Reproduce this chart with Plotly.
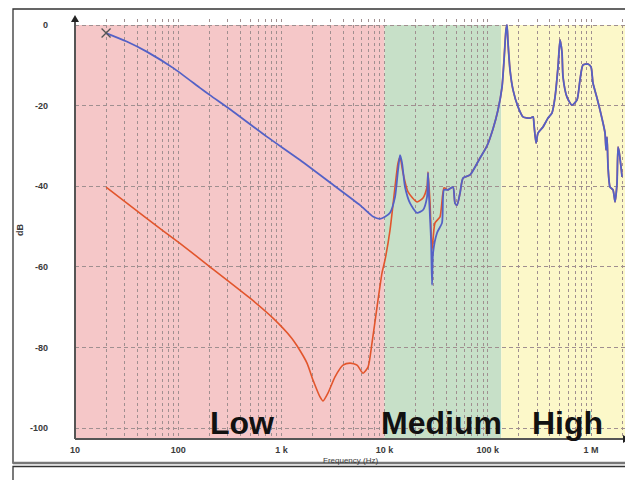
import plotly.graph_objects as go

# ---- data ----
blue_low_f = [20, 31.7, 49.5, 89.8, 162.6, 203, 342, 721, 1514, 3186, 5777, 7780, 9020, 10090,
              11280, 12610, 13490, 14100, 14750, 15770, 17630, 20600, 23550,
              25750, 26340, 26940, 28190, 28810, 29450, 32190, 35990, 37630]
blue_low_db = [-2.0, -4.1, -6.6, -10.7, -15.6, -17.4, -21.5, -27.7, -33.5, -39.7, -44.7, -47.6, -48.1, -47.6,
               -46.6, -42.7, -36.0, -32.3, -34.2, -40.2, -44.2, -46.6, -45.9,
               -42.7, -36.7, -42.7, -53.3, -64.5, -56.6, -51.6, -49.1, -40.9]

red_low_f = [20, 49.5, 104, 203, 497, 834, 1259, 1416, 1770, 2023, 2366, 2530,
             2830, 3306, 3955, 4624, 5405, 6180, 6905, 7550, 8440, 9440, 10090,
             11280, 12610, 13490, 14100, 15080, 16860, 20600, 23550, 25750,
             26340, 27560, 28810, 30790, 34420, 37630]
red_low_db = [-40.2, -48.0, -54.2, -60.0, -67.8, -72.8, -77.7, -79.6, -83.9, -88.1, -92.3, -93.3,
              -91.3, -87.3, -84.4, -83.9, -84.4, -86.4, -84.9, -78.9, -70.0, -61.5, -58.3,
              -50.9, -40.2, -34.2, -32.8, -36.7, -41.4, -43.9, -42.9, -40.2,
              -36.5, -44.2, -55.8, -49.1, -47.6, -40.4]

high_f = [41140, 46000, 48100, 50300, 53800, 57500, 67300, 84000, 98200, 112200,
          125500, 137300, 143600, 150100, 153500, 157000, 164200, 175500, 196200,
          219400, 256500, 274300, 280500, 293300, 306500, 342600, 383100, 418900,
          447900, 478900, 500800, 523700, 535500, 585300, 654400, 731600, 782200,
          836400, 935000, 1000000, 1045000, 1143000, 1222000, 1307000, 1367000,
          1398000, 1430000, 1462000, 1528000, 1634000, 1709000, 1787000, 1827000,
          1868000, 1953000, 2000000]
high_db = [-40.9, -40.2, -44.2, -44.7, -41.7, -38.0, -37.2, -33.0, -30.0, -25.8,
           -21.1, -15.4, -8.7, -1.2, 0.0, -4.5, -11.2, -16.1, -20.3,
           -22.8, -23.1, -22.8, -24.8, -29.3, -26.8, -25.3, -23.1, -21.8,
           -17.9, -10.4, -3.7, -6.9, -12.9, -17.9, -19.9, -18.6, -13.6,
           -9.9, -9.7, -10.4, -14.4, -18.1, -21.1, -24.3, -26.8,
           -31.0, -27.8, -35.2, -40.2, -40.9, -43.9, -39.2, -30.3,
           -31.3, -35.2, -37.7]

band_names = ["Low", "Medium", "High"]
band_edges = [10, 10000, 135000, 2200000]
band_colors = ["#f5c7c8", "#c7e0c8", "#fcf8c9"]

major_vals = [10, 100, 1000, 10000, 100000, 1000000]
major_text = ["10", "100", "1 k", "10 k", "100 k", "1 M"]
y_vals = [0, -20, -40, -60, -80, -100]
y_text = ["0", "-20", "-40", "-60", "-80", "-100"]

# ---- figure ----
fig = go.Figure()

# bands
for i in range(3):
    fig.add_shape(type="rect", xref="x", yref="y",
                  x0=band_edges[i], x1=band_edges[i + 1], y0=-110, y1=0,
                  fillcolor=band_colors[i], line=dict(width=0), layer="below")

red_f = red_low_f + high_f
red_db = red_low_db + high_db
blue_f = blue_low_f + high_f
blue_db = blue_low_db + high_db

fig.add_trace(go.Scatter(x=red_f, y=red_db, mode="lines",
                         line=dict(color="#e2552c", width=1.6, shape="spline", smoothing=0.6),
                         showlegend=False))
fig.add_trace(go.Scatter(x=blue_f, y=blue_db, mode="lines",
                         line=dict(color="#5461c6", width=1.8, shape="spline", smoothing=0.6),
                         showlegend=False))
fig.add_trace(go.Scatter(x=[blue_f[0]], y=[blue_db[0]], mode="markers",
                         marker=dict(symbol="x-thin", size=9, line=dict(color="#555", width=1.3)),
                         showlegend=False))

# grid tick positions: all 1..9 multiples per decade
grid_vals = []
grid_text = []
for d in [10, 100, 1000, 10000, 100000, 1000000]:
    for m in range(1, 10):
        v = d * m
        if v > 2000000:
            continue
        grid_vals.append(v)
        grid_text.append(major_text[major_vals.index(d)] if m == 1 else "")

tick_font = dict(family="Liberation Sans", size=9, color="#3a3a3a", weight="bold")

fig.update_xaxes(type="log", range=[1, 6.339], tickvals=grid_vals, ticktext=grid_text,
                 showgrid=True, gridcolor="#a08f90", griddash="dot", gridwidth=1,
                 showline=False, zeroline=False, ticks="", tickfont=tick_font,
                 ticklabelstandoff=4, automargin=False)
fig.update_yaxes(range=[-102.73, 1.49], tickvals=y_vals, ticktext=y_text,
                 showgrid=True, gridcolor="#a08f90", griddash="4px,3px", gridwidth=1,
                 showline=False, zeroline=False, ticks="", tickfont=tick_font,
                 ticklabelstandoff=26, automargin=False)

# page body adds an 8px offset; figure is sized so the plot lands on the reference pixels
OFF = 8
L, R, T, B = 75 - OFF, 7, 19 - OFF, 41
W, H = 633 - OFF, 480 - OFF
pw, ph = 551, 420


def px(x):
    return (x - 75) / pw


def py(y):
    return (439 - y) / ph


# axis lines with arrows
fig.add_shape(type="line", xref="paper", yref="paper", x0=0, x1=0, y0=0, y1=py(19),
              line=dict(color="#555", width=2))
fig.add_shape(type="path", xref="paper", yref="paper",
              path=f"M {px(71)} {py(22)} L {px(79)} {py(22)} L {px(75)} {py(15)} Z",
              fillcolor="#222", line=dict(width=0))
fig.add_shape(type="line", xref="paper", yref="paper", x0=0, x1=px(624), y0=0, y1=0,
              line=dict(color="#555", width=2))
fig.add_shape(type="path", xref="paper", yref="paper",
              path=f"M {px(623)} {py(435)} L {px(623)} {py(443)} L {px(630)} {py(439)} Z",
              fillcolor="#222", line=dict(width=0))

# outer frames
fig.add_shape(type="rect", xref="paper", yref="paper", x0=px(13), x1=px(631.5),
              y0=py(463), y1=py(9), line=dict(color="#333", width=1.3), fillcolor="rgba(0,0,0,0)")
fig.add_shape(type="line", xref="paper", yref="paper", x0=px(13), x1=px(631.5),
              y0=py(463), y1=py(463), line=dict(color="#777", width=2.5))
fig.add_shape(type="rect", xref="paper", yref="paper", x0=px(13), x1=px(631.5),
              y0=py(485), y1=py(466.5), line=dict(color="#333", width=1.3), fillcolor="rgba(0,0,0,0)")

# axis titles
fig.add_annotation(text="dB", xref="paper", yref="paper", x=px(20), y=py(230),
                   xanchor="center", yanchor="middle", showarrow=False, textangle=-90,
                   font=dict(family="Liberation Sans", size=9, color="#3a3a3a", weight="bold"))
fig.add_annotation(text="Frequency (Hz)", xref="paper", yref="paper", x=px(350), y=py(460),
                   xanchor="center", yanchor="middle", showarrow=False,
                   font=dict(family="Liberation Sans", size=8, color="#3a3a3a"))

# band labels
label_x = [242, 441, 567]
for name, lx in zip(band_names, label_x):
    fig.add_annotation(text=name, xref="paper", yref="paper", x=px(lx), y=py(423),
                       xanchor="center", yanchor="middle", showarrow=False,
                       font=dict(family="Liberation Sans", size=32, color="#111", weight="bold"))

fig.update_layout(width=W, height=H, margin=dict(l=L, r=R, t=T, b=B, autoexpand=False),
                  paper_bgcolor="white", plot_bgcolor="white", showlegend=False)

fig.write_html("out.html")
